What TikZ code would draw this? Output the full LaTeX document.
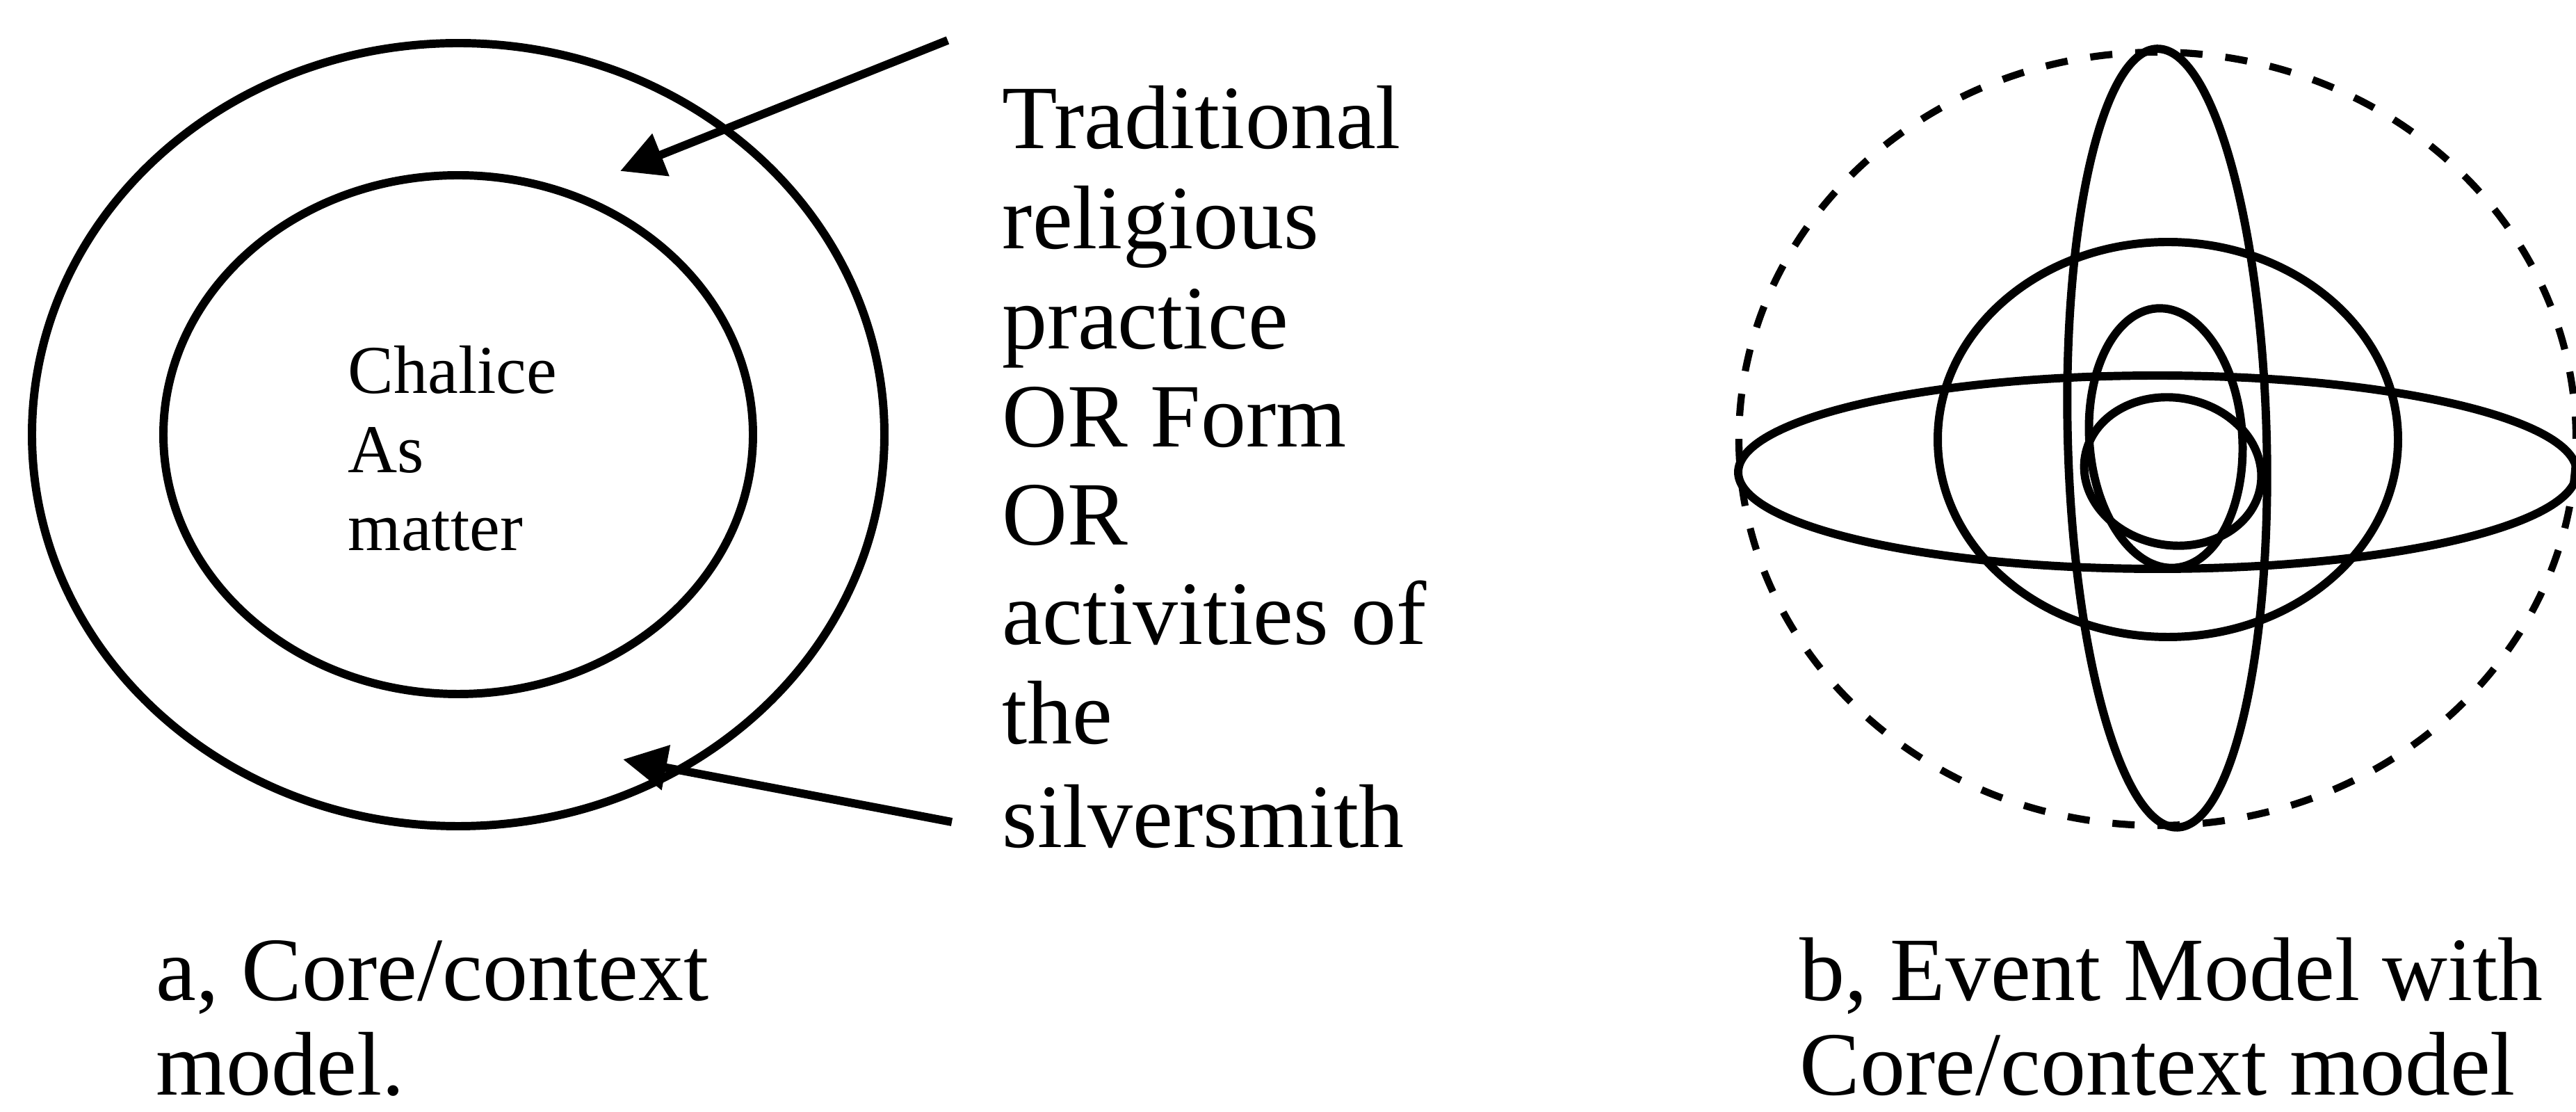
\documentclass[tikz,border=0pt]{standalone}
\usepackage{fontspec}
\setmainfont{Liberation Serif}
\usetikzlibrary{arrows.meta,shapes.geometric}
\begin{document}
\begin{tikzpicture}[
  ln/.style={line width=3.4pt},
  big/.style={font=\fontsize{37}{41}\selectfont, anchor=base west, inner sep=0pt},
  small/.style={font=\fontsize{28}{32}\selectfont, anchor=base west, inner sep=0pt},
  ring/.style={draw, ellipse, line width=3.4pt, inner sep=0pt},
  arr/.style={line width=3.4pt, -{Triangle[length=6.3mm,width=6.3mm]}},
  dsh/.style={line width=2.9pt, dash pattern=on 0.32cm off 0.33cm}
]
\useasboundingbox (0,0) rectangle (37.05,15.99);
% left figure
\node[ring, minimum width=12.26cm, minimum height=11.26cm] (ctx) at (6.59,9.74) {};
\node[ring, minimum width=8.48cm, minimum height=7.46cm] (core) at (6.59,9.74) {};
\node[small] (c1) at (5.00,10.33) {Chalice};
\node[small] (c2) at (5.00,9.19) {As};
\node[small] (c3) at (5.00,8.07) {matter};
% arrows
\coordinate (a1s) at (13.63,15.41);
\coordinate (a1e) at (8.92,13.53);
\coordinate (a2s) at (13.69,4.17);
\coordinate (a2e) at (8.96,5.07);
\draw[arr] (a1s) -- (a1e);
\draw[arr] (a2s) -- (a2e);
% right text
\node[big] (t1) at (14.41,13.85) {Traditional};
\node[big] (t2) at (14.41,12.41) {religious};
\node[big] (t3) at (14.41,10.97) {practice};
\node[big] (t4) at (14.41,9.56) {OR Form};
\node[big] (t5) at (14.41,8.15) {OR};
\node[big] (t6) at (14.41,6.72) {activities of};
\node[big] (t7) at (14.41,5.29) {the};
\node[big] (t8) at (14.41,3.80) {silversmith};
% captions
\node[big] (ca1) at (2.24,1.60) {a, Core/context};
\node[big] (ca2) at (2.24,0.24) {model.};
\node[big] (cb1) at (25.88,1.60) {b, Event Model with};
\node[big] (cb2) at (25.88,0.24) {Core/context model};
% right figure
\draw[dsh] (31.03,9.68) ellipse [x radius=6.02, y radius=5.56];
\draw[ln] (31.03,9.20) ellipse [x radius=6.03, y radius=1.39];
\draw[ln, rotate around={1.5:(31.17,9.69)}] (31.17,9.69) ellipse [x radius=1.43, y radius=5.60];
\draw[ln] (31.18,9.67) ellipse [x radius=3.31, y radius=2.84];
\draw[ln, rotate around={4:(31.15,9.69)}] (31.15,9.69) ellipse [x radius=1.10, y radius=1.87];
\draw[ln, rotate around={-10:(31.25,9.21)}] (31.25,9.21) ellipse [x radius=1.28, y radius=1.06];
\end{tikzpicture}
\end{document}
